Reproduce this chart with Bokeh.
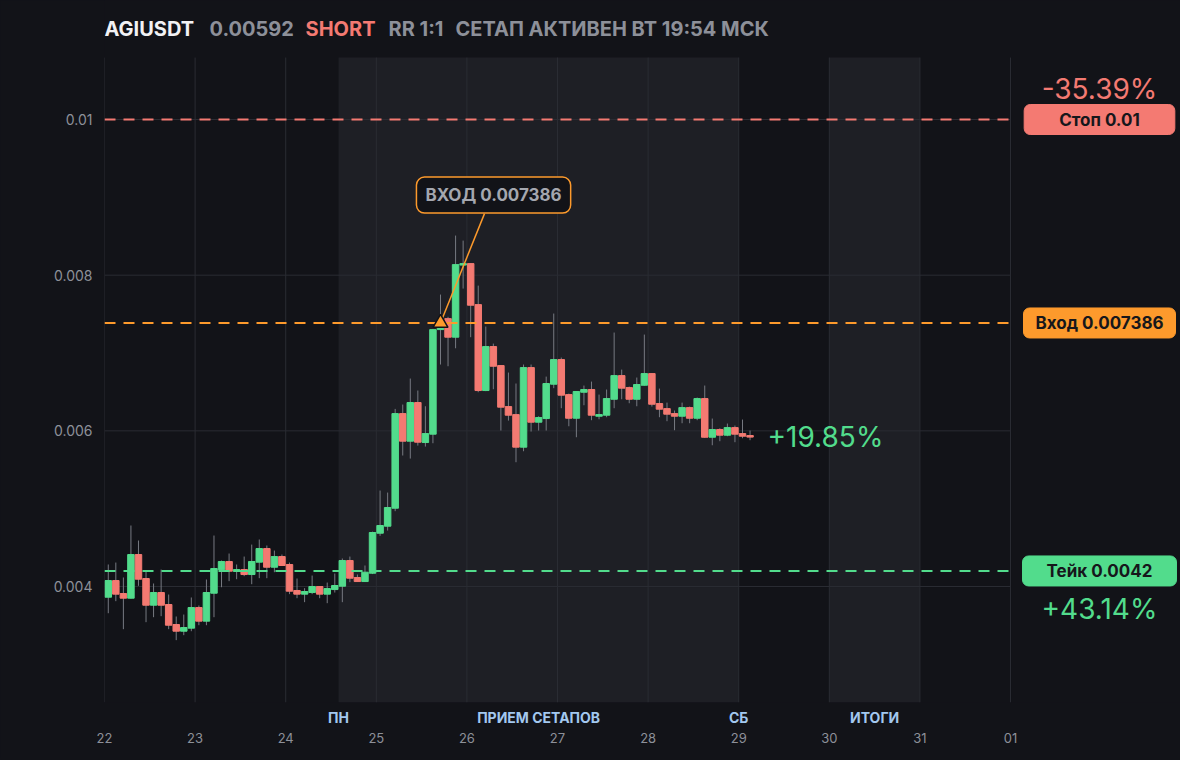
from bokeh.plotting import figure
from bokeh.models import (Label, BoxAnnotation, FixedTicker, LinearAxis,
                          CustomJSTickFormatter, ColumnDataSource)
from bokeh.embed import file_html
from bokeh.resources import INLINE

# ---------------- data ----------------
symbol = "AGIUSDT"
side = "SHORT"
rr_text = "RR 1:1"
status_text = "СЕТАП АКТИВЕН ВТ 19:54 МСК"

start_day = 22          # first candle day
candle_hours = 2        # 2h candles

opens = [0.003863, 0.004077, 0.003910, 0.003850, 0.004411, 0.004103, 0.003760, 0.003923,
         0.003769, 0.003512, 0.003426, 0.003465, 0.003730, 0.003555, 0.003914, 0.004218,
         0.004321, 0.004193, 0.004218, 0.004154, 0.004313, 0.004488, 0.004248, 0.004385,
         0.004283, 0.003949, 0.003902, 0.003923, 0.004000, 0.003902, 0.003961, 0.004004,
         0.004334, 0.004116, 0.004064, 0.004171, 0.004685, 0.004775, 0.005006, 0.006222,
         0.005867, 0.006364, 0.005850, 0.005957, 0.007301, 0.007442, 0.007203, 0.008130,
         0.008149, 0.007622, 0.006518, 0.007083, 0.006839, 0.006312, 0.006209, 0.005790,
         0.006813, 0.006111, 0.006158, 0.006599, 0.006916, 0.006466, 0.006162, 0.006496,
         0.006531, 0.006188, 0.006201, 0.006406, 0.006710, 0.006556, 0.006406, 0.006586,
         0.006736, 0.006351, 0.006286, 0.006222, 0.006188, 0.006299, 0.006162, 0.006415,
         0.005918, 0.006017, 0.005944, 0.006042, 0.005965, 0.005940]
highs = [0.004283, 0.004308, 0.004116, 0.004784, 0.004591, 0.004188, 0.004039, 0.004218,
         0.003897, 0.003615, 0.003640, 0.003859, 0.003756, 0.004090, 0.004655, 0.004334,
         0.004424, 0.004283, 0.004385, 0.004539, 0.004604, 0.004527, 0.004462, 0.004411,
         0.004308, 0.004103, 0.003979, 0.004141, 0.004005, 0.004051, 0.004167, 0.004360,
         0.004385, 0.004154, 0.004270, 0.004705, 0.005233, 0.005207, 0.006282, 0.006338,
         0.006672, 0.006518, 0.006316, 0.007310, 0.007751, 0.007465, 0.008509, 0.008444,
         0.008155, 0.007866, 0.007340, 0.007121, 0.006845, 0.006749, 0.006608, 0.006852,
         0.006852, 0.006188, 0.006697, 0.007507, 0.006942, 0.006479, 0.006510, 0.006582,
         0.006633, 0.006466, 0.006531, 0.007263, 0.006787, 0.006569, 0.006685, 0.007237,
         0.006740, 0.006543, 0.006363, 0.006261, 0.006363, 0.006312, 0.006428, 0.006582,
         0.006158, 0.006034, 0.006094, 0.006068, 0.006145, 0.006004]
lows = [0.003657, 0.003812, 0.003452, 0.003845, 0.004009, 0.003542, 0.003606, 0.003619,
        0.003452, 0.003311, 0.003375, 0.003426, 0.003503, 0.003503, 0.003606, 0.003991,
        0.004069, 0.004094, 0.004133, 0.004030, 0.004107, 0.004107, 0.004184, 0.004265,
        0.003902, 0.003850, 0.003799, 0.003902, 0.003850, 0.003786, 0.003923, 0.003799,
        0.004056, 0.004060, 0.004060, 0.004160, 0.004651, 0.004719, 0.004968, 0.005683,
        0.005644, 0.005811, 0.005798, 0.005841, 0.006852, 0.006830, 0.007061, 0.007828,
        0.007203, 0.006496, 0.006510, 0.006535, 0.006004, 0.006132, 0.005597, 0.005738,
        0.005991, 0.006004, 0.006004, 0.006548, 0.006291, 0.006059, 0.005918, 0.006329,
        0.006137, 0.006149, 0.006175, 0.006291, 0.006406, 0.006355, 0.006316, 0.006580,
        0.006312, 0.006175, 0.006124, 0.006008, 0.006098, 0.006098, 0.006137, 0.005910,
        0.005815, 0.005867, 0.005931, 0.005854, 0.005905, 0.005880]
closes = [0.004077, 0.003902, 0.003850, 0.004411, 0.004094, 0.003760, 0.003923, 0.003760,
          0.003503, 0.003426, 0.003473, 0.003730, 0.003555, 0.003923, 0.004231, 0.004321,
          0.004197, 0.004218, 0.004154, 0.004321, 0.004488, 0.004248, 0.004385, 0.004270,
          0.003940, 0.003902, 0.003936, 0.004000, 0.003902, 0.003974, 0.004013, 0.004334,
          0.004107, 0.004064, 0.004184, 0.004694, 0.004784, 0.005015, 0.006222, 0.005867,
          0.006364, 0.005854, 0.005965, 0.007301, 0.007400, 0.007203, 0.008136, 0.008149,
          0.007614, 0.006518, 0.007083, 0.006830, 0.006304, 0.006201, 0.005790, 0.006813,
          0.006111, 0.006171, 0.006608, 0.006916, 0.006458, 0.006162, 0.006505, 0.006531,
          0.006201, 0.006209, 0.006415, 0.006710, 0.006548, 0.006406, 0.006595, 0.006736,
          0.006342, 0.006278, 0.006214, 0.006188, 0.006299, 0.006162, 0.006415, 0.005918,
          0.006017, 0.005944, 0.006042, 0.005957, 0.005931, 0.005920]

stop_price = 0.01
entry_price = 0.007386
take_price = 0.0042
entry_candle = 44

day_ticks = [22, 23, 24, 25, 26, 27, 28, 29, 30, 31, 32]
day_labels = ["22", "23", "24", "25", "26", "27", "28", "29", "30", "31", "01"]
price_ticks = [0.004, 0.006, 0.008, 0.01]

# shaded sessions (start day, end day)
setup_window = (24.5833, 29.0)
results_window = (30.0, 31.0)
window_labels = ["ПН", "ПРИЕМ СЕТАПОВ", "СБ", "ИТОГИ"]

# chart area limits (price axis / time axis)
x0, x1 = 22, 32
y0, y1 = 0.00251, 0.010796

# ---------------- style ----------------
BG = "#121318"
BAND = "#1e1f25"
GRID = "#2a2c33"
GREEN = "#52dc8c"
RED = "#f47a72"
ORANGE = "#fd9a2c"
GREY = "#8d9099"
WICK = "#777a82"
BLUE = "#a3c8ef"
FONT = "Inter"

step = candle_hours / 24.0
t = [start_day + (i + 0.5) * step for i in range(len(opens))]
up = [c >= o for o, c in zip(opens, closes)]
src = ColumnDataSource(dict(
    t=t, high=highs, low=lows,
    top=[max(o, c) for o, c in zip(opens, closes)],
    bottom=[min(o, c) for o, c in zip(opens, closes)],
    color=[GREEN if u else RED for u in up],
))

W, H = 1180, 758
p = figure(width=W, height=H, x_range=(22, 33.876), y_range=(0.00251, 0.011529),
           output_backend="svg", toolbar_location=None,
           min_border_left=104, min_border_right=0, min_border_top=0, min_border_bottom=56,
           background_fill_color=BG, border_fill_color=BG, outline_line_color=None)
p.xgrid.visible = False
p.ygrid.visible = False

# bands
for a, b in (setup_window, results_window):
    p.add_layout(BoxAnnotation(left=a, right=b, top=y1, fill_color=BAND, fill_alpha=1.0,
                               line_alpha=0, level="image"))

# grid lines (limited to the chart area)
vg = p.segment(x0=day_ticks, y0=[y0] * len(day_ticks), x1=day_ticks, y1=[y1] * len(day_ticks),
               line_color=GRID, line_width=1)
hg = p.segment(x0=[x0] * len(price_ticks), y0=price_ticks, x1=[x1] * len(price_ticks),
               y1=price_ticks, line_color=GRID, line_width=1)
vg.level = "underlay"
hg.level = "underlay"

# axes
lab_x = [setup_window[0], (setup_window[0] + setup_window[1]) / 2, setup_window[1],
         (results_window[0] + results_window[1]) / 2]
cat_axis = p.below[0]
cat_axis.ticker = FixedTicker(ticks=lab_x)
cat_axis.formatter = CustomJSTickFormatter(
    args=dict(pos=lab_x, names=window_labels),
    code="""for (let i = 0; i < pos.length; i++) {
                if (Math.abs(tick - pos[i]) < 1e-6) return names[i]; }
            return '';""")
date_axis = LinearAxis(ticker=FixedTicker(ticks=day_ticks))
date_axis.major_label_overrides = {k: v for k, v in zip(day_ticks, day_labels)}
p.add_layout(date_axis, "below")
p.yaxis.ticker = FixedTicker(ticks=price_ticks)
p.yaxis.formatter = CustomJSTickFormatter(code="return String(Math.round(tick*1e6)/1e6);")
for ax in (cat_axis, date_axis, p.yaxis[0]):
    ax.axis_line_color = None
    ax.major_tick_line_color = None
    ax.minor_tick_line_color = None
    ax.major_tick_out = 0
    ax.major_tick_in = 0
    ax.minor_tick_out = 0
    ax.minor_tick_in = 0
    ax.major_label_text_color = GREY
    ax.major_label_text_font = FONT
    ax.major_label_text_font_size = "13px"
p.yaxis.major_label_text_font_size = "14px"
p.yaxis.major_label_standoff = 12
cat_axis.major_label_text_color = BLUE
cat_axis.major_label_text_font_style = "bold"
cat_axis.major_label_text_font_size = "14px"
cat_axis.major_label_standoff = 6
date_axis.major_label_standoff = 4

# candles
p.segment(x0="t", y0="low", x1="t", y1="high", source=src, line_color=WICK, line_width=1)
p.vbar(x="t", top="top", bottom="bottom", width=step * 0.86, source=src,
       fill_color="color", line_color="color", line_width=1)

# level lines
for price, col in ((stop_price, RED), (entry_price, ORANGE), (take_price, GREEN)):
    p.segment(x0=[x0], y0=[price], x1=[x1], y1=[price], line_color=col,
              line_width=2, line_dash="11 8")

# entry marker + callout
et = t[entry_candle]
callout_x, callout_y = 26.294, 0.009029
p.segment(x0=[et], y0=[entry_price], x1=[26.194], y1=[0.008791],
          line_color=ORANGE, line_width=1.5)
p.scatter(x=[et], y=[entry_price], marker="triangle", size=15,
          fill_color=ORANGE, line_color=BG, line_width=1.5)
p.add_layout(Label(x=callout_x, y=callout_y, text="ВХОД %g" % entry_price,
                   text_align="center", text_baseline="middle",
                   text_font=FONT, text_font_style="bold", text_font_size="17px",
                   text_color="#a4a7af", background_fill_color=BG,
                   border_line_color=ORANGE, border_line_width=1.5,
                   border_radius=8, padding=(9, 8)))

# right side labels
rx = 32.982
def pct(level):
    return (entry_price - level) / entry_price * 100

boxes = [("Стоп %g" % stop_price, stop_price, RED, 35),
         ("Вход %g" % entry_price, entry_price, ORANGE, 12),
         ("Тейк %g" % take_price, take_price, GREEN, 24)]
for txt, yv, col, hp in boxes:
    p.add_layout(Label(x=rx, y=yv, text=txt, text_align="center", text_baseline="middle",
                       text_font=FONT, text_font_style="bold", text_font_size="17px",
                       text_color="#16171b", background_fill_color=col,
                       border_line_color=col, border_radius=6, padding=(hp, 5)))

p.add_layout(Label(x=rx, y=0.010398, text="%+.2f%%" % pct(stop_price),
                   text_align="center", text_baseline="middle", text_font=FONT,
                   text_font_size="28px", text_color=RED))
p.add_layout(Label(x=rx, y=0.003717, text="%+.2f%%" % pct(take_price),
                   text_align="center", text_baseline="middle", text_font=FONT,
                   text_font_size="28px", text_color=GREEN))
p.add_layout(Label(x=29.318, y=closes[-1], text="%+.2f%%" % pct(closes[-1]),
                   text_align="left", text_baseline="middle", text_font=FONT,
                   text_font_size="28px", text_color=GREEN))

# header
head_y = 0.011169
header = [(symbol, 22.0, "#f2f2f4"), ("%g" % closes[-1], 23.159, GREY),
          (side, 24.219, RED), (rr_text, 25.135, GREY), (status_text, 25.874, GREY)]
for txt, xv, col in header:
    p.add_layout(Label(x=xv, y=head_y, text=txt, text_align="left", text_baseline="middle",
                       text_font=FONT, text_font_style="bold", text_font_size="20px",
                       text_color=col))

html = file_html(p, INLINE)
html = html.replace("</head>", "<style>html,body{background:%s;margin:0;}</style></head>" % BG, 1)
open("out.html", "w").write(html)
